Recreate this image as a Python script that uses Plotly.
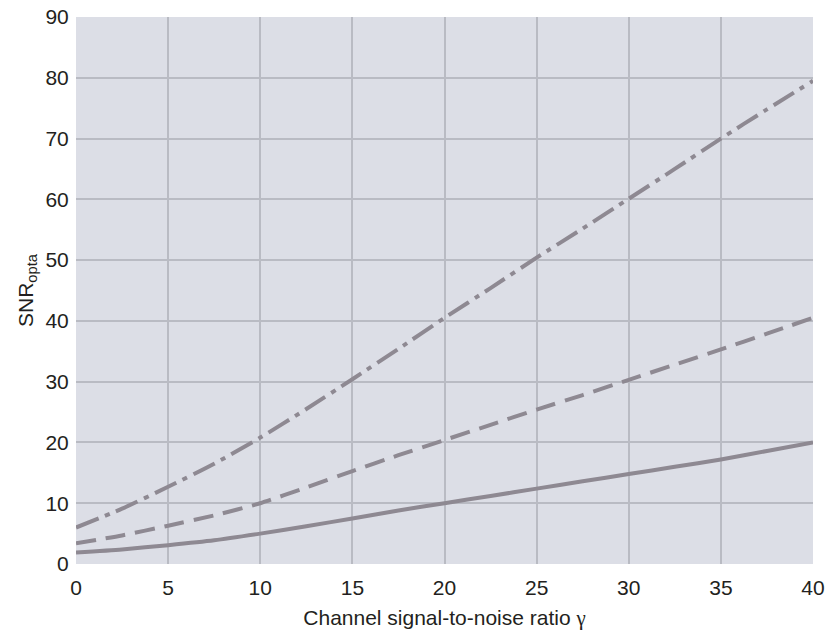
import plotly.graph_objects as go

gamma = [0, 2.5, 5, 7.5, 10, 12.5, 15, 17.5, 20, 22.5, 25, 27.5, 30, 32.5, 35, 37.5, 40]
snr_solid = [1.9, 2.4, 3.1, 3.9, 5.0, 6.2, 7.5, 8.8, 10.0, 11.2, 12.4, 13.6, 14.8, 16.0, 17.2, 18.6, 20.0]
snr_dash = [3.4, 4.7, 6.3, 8.0, 10.0, 12.6, 15.3, 17.9, 20.4, 22.9, 25.4, 27.8, 30.3, 32.8, 35.3, 37.9, 40.5]
snr_dashdot = [6.0, 9.1, 12.7, 16.5, 20.8, 25.5, 30.4, 35.4, 40.5, 45.4, 50.4, 55.2, 60.1, 65.0, 70.0, 74.8, 79.5]

x_ticks = [0, 5, 10, 15, 20, 25, 30, 35, 40]
y_ticks = [0, 10, 20, 30, 40, 50, 60, 70, 80, 90]

line_color = "#8e8992"
series = [
    (snr_solid, "solid"),
    (snr_dash, "20px,10px"),
    (snr_dashdot, "24px,7px,5px,7px"),
]

fig = go.Figure()
for ys, dash in series:
    fig.add_trace(go.Scatter(
        x=gamma, y=ys, mode="lines",
        line=dict(color=line_color, width=4, dash=dash, shape="spline", smoothing=0.6),
        showlegend=False, hoverinfo="skip",
    ))

tick_font = dict(family="Liberation Sans, Arial, sans-serif", size=21, color="#231f20")
title_font = dict(family="Liberation Sans, Arial, sans-serif", size=21, color="#231f20")

fig.update_layout(
    width=825, height=637,
    margin=dict(l=76, r=12, t=17, b=73),
    paper_bgcolor="white",
    plot_bgcolor="#dcdee6",
    font=tick_font,
    xaxis=dict(
        range=[0, 40], tickvals=x_ticks, ticktext=[str(v) for v in x_ticks],
        showgrid=True, gridcolor="#b9bbc3", gridwidth=1.5,
        zeroline=False, showline=False, automargin=False,
        ticks="outside", ticklen=5, tickcolor="rgba(0,0,0,0)",
        ticklabeloverflow="allow",
        title=dict(text="Channel signal-to-noise ratio <span style='font-family:Liberation Serif'>γ</span>",
                   font=title_font, standoff=12),
        tickfont=tick_font,
    ),
    yaxis=dict(
        range=[0, 90], tickvals=y_ticks, ticktext=[str(v) for v in y_ticks],
        showgrid=True, gridcolor="#b9bbc3", gridwidth=1.5,
        zeroline=False, showline=False, automargin=False,
        ticks="outside", ticklen=2, tickcolor="rgba(0,0,0,0)",
        title=dict(text="SNR<sub>opta</sub>", font=title_font, standoff=6),
        tickfont=tick_font,
    ),
)

fig.write_html("out.html")
